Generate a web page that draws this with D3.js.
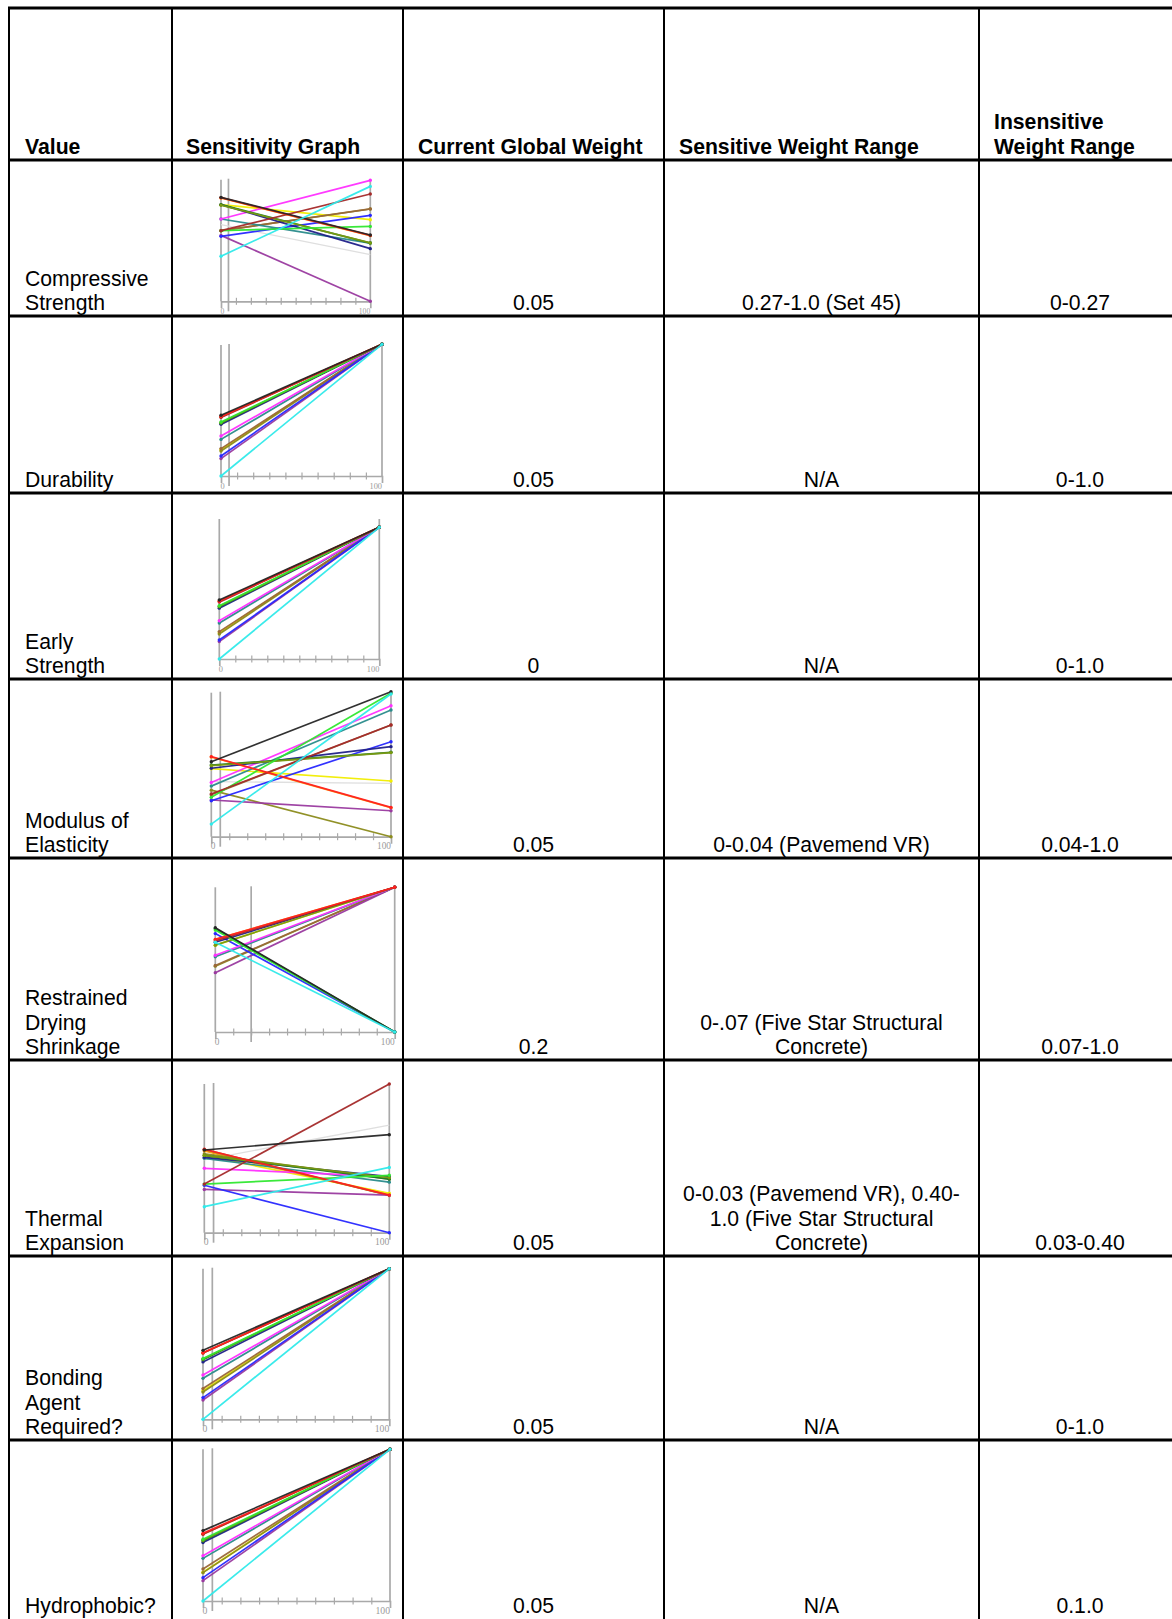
<!DOCTYPE html>
<html><head><meta charset="utf-8">
<script src="https://cdn.jsdelivr.net/npm/d3@7"></script>
<style>body{margin:0;background:#fff}svg{display:block}</style>
</head><body><svg id="c" width="1172" height="1619"></svg>
<script>
// ---------------- DATA ----------------
const columnHeaders = [["Value"], ["Sensitivity Graph"], ["Current Global Weight"], ["Sensitive Weight Range"], ["Insensitive", "Weight Range"]];
const rowLabels = [["Compressive", "Strength"], ["Durability"], ["Early", "Strength"], ["Modulus of", "Elasticity"],
  ["Restrained", "Drying", "Shrinkage"], ["Thermal", "Expansion"], ["Bonding", "Agent", "Required?"], ["Hydrophobic?"]];
const currentWeights = ["0.05", "0.05", "0", "0.05", "0.2", "0.05", "0.05", "0.05"];
const weightPercent = [5, 5, 0, 5, 20, 5, 5, 5];
const sensitiveRanges = [["0.27-1.0 (Set 45)"], ["N/A"], ["N/A"], ["0-0.04 (Pavemend VR)"],
  ["0-.07 (Five Star Structural", "Concrete)"], ["0-0.03 (Pavemend VR), 0.40-", "1.0 (Five Star Structural", "Concrete)"], ["N/A"], ["N/A"]];
const insensitiveRanges = ["0-0.27", "0-1.0", "0-1.0", "0.04-1.0", "0.07-1.0", "0.03-0.40", "0-1.0", "0.1.0"];
const axisTickLabels = ["0", "100"];
const axisTicks = [10, 20, 30, 40, 50, 60, 70, 80, 90];

// alternatives (drawing order)
const alternatives = ["lightgrey", "yellow", "orange", "olive", "brown", "purple", "blue", "teal", "magenta", "navy", "darkgreen", "olivegreen", "lime", "maroon", "red", "black", "cyan"];

// score of each alternative at weight 0 % and 100 % (same order as alternatives)
const g1At0   = [0.63, 0.795, 0.85, 0.581, 0.58, 0.542, 0.534, 0.677, 0.677, 0.795, 0.795, 0.79, 0.581, 0.581, 0.852, 0.855, 0.370];
const g1At100 = [0.384, 0.671, 0.54, 0.759, 0.76, 0.0, 0.707, 0.479, 0.995, 0.433, 0.479, 0.48, 0.616, 0.882, 0.542, 0.545, 0.945];
const g2At0   = [0.28, 0.2, 0.45, 0.19, 0.208, 0.132, 0.152, 0.278, 0.304, 0.392, 0.40, 0.405, 0.41, 0.445, 0.451, 0.461, 0.0];
const g2At100 = [1, 1, 1, 1, 1, 1, 1, 1, 1, 1, 1, 1, 1, 1, 1, 1, 1];
const g3At0   = [0.27, 0.2, 0.44, 0.19, 0.208, 0.132, 0.144, 0.273, 0.291, 0.386, 0.395, 0.40, 0.405, 0.432, 0.438, 0.448, 0.0];
const g3At100 = [1, 1, 1, 1, 1, 1, 1, 1, 1, 1, 1, 1, 1, 1, 1, 1, 1];
const g4At0   = [0.38, 0.469, 0.55, 0.321, 0.29, 0.253, 0.248, 0.349, 0.374, 0.472, 0.494, 0.49, 0.272, 0.295, 0.552, 0.517, 0.087];
const g4At100 = [0.368, 0.384, 0.2, 0.0, 0.77, 0.179, 0.655, 0.874, 0.903, 0.621, 0.582, 0.58, 0.989, 0.770, 0.202, 1.0, 0.984];
const g5At0   = [0.52, 0.60, 0.64, 0.455, 0.46, 0.41, 0.68, 0.52, 0.53, 0.62, 0.715, 0.60, 0.705, 0.63, 0.64, 0.72, 0.62];
const g5At100 = [1, 1, 1, 1, 1, 1, 0, 1, 1, 1, 0, 1, 0, 1, 1, 0, 0];
const g6At0   = [0.49, 0.52, 0.55, 0.53, 0.56, 0.291, 0.319, 0.5, 0.433, 0.507, 0.52, 0.52, 0.327, 0.327, 0.561, 0.556, 0.175];
const g6At100 = [0.724, 0.265, 0.253, 0.36, 0.25, 0.253, 0.0, 0.34, 0.377, 0.377, 0.36, 0.37, 0.386, 1.0, 0.253, 0.659, 0.439];
const g7At0   = [0.27, 0.19, 0.44, 0.181, 0.204, 0.128, 0.144, 0.272, 0.294, 0.381, 0.395, 0.40, 0.403, 0.44, 0.442, 0.458, 0.0];
const g7At100 = [1, 1, 1, 1, 1, 1, 1, 1, 1, 1, 1, 1, 1, 1, 1, 1, 1];
const g8At0   = [0.28, 0.19, 0.44, 0.187, 0.211, 0.134, 0.154, 0.281, 0.299, 0.385, 0.395, 0.40, 0.407, 0.44, 0.446, 0.464, 0.0];
const g8At100 = [1, 1, 1, 1, 1, 1, 1, 1, 1, 1, 1, 1, 1, 1, 1, 1, 1];

// ---------------- STYLE / LAYOUT ----------------
const altColor = {
  lightgrey: "#dedede", yellow: "#f2ee00", orange: "#ff9a00", olive: "#8c8c1c", brown: "#9a6838",
  purple: "#9a3aa0", blue: "#2828ff", teal: "#2a8c8c", magenta: "#ff30ff", navy: "#20208a",
  darkgreen: "#1c7a2a", olivegreen: "#7a9a10", lime: "#30e830", maroon: "#a52a2a", red: "#ff2020",
  black: "#262626", cyan: "#30eaea"
};
const graphData = [[g1At0, g1At100], [g2At0, g2At100], [g3At0, g3At100], [g4At0, g4At100],
  [g5At0, g5At100], [g6At0, g6At100], [g7At0, g7At100], [g8At0, g8At100]];
const graphLayout = [
  {x0: 221, x1: 370.3, yb: 301.3, yv: 179.7, top: 179.7},
  {x0: 221, x1: 382, yb: 476, yv: 344.3, top: 345},
  {x0: 219.3, x1: 379.3, yb: 659, yv: 527.3, top: 519},
  {x0: 211.3, x1: 391, yb: 836.7, yv: 691.7, top: 692.7},
  {x0: 215.3, x1: 394.7, yb: 1032, yv: 887.3, top: 887.3},
  {x0: 204.3, x1: 389.3, yb: 1232.7, yv: 1084, top: 1084},
  {x0: 203, x1: 389.3, yb: 1419.3, yv: 1268.7, top: 1268.7},
  {x0: 203, x1: 390, yb: 1601, yv: 1449.3, top: 1449.3}
];
const colX = [9, 172, 403, 664, 979, 1181];
const rowY = [8, 160, 316, 493, 679, 858, 1060, 1256, 1440, 1619];
const FONT = "'Liberation Sans', Arial, Helvetica, sans-serif";
const FS = 21.2, LH = 24.5;

const svg = d3.select("#c");
svg.append("rect").attr("width", 1172).attr("height", 1619).attr("fill", "#fff");

// ---------------- GRAPHS ----------------
graphLayout.forEach((L, i) => {
  const g = svg.append("g");
  const x = d3.scaleLinear().domain([0, 100]).range([L.x0, L.x1]);
  const y = d3.scaleLinear().domain([0, 1]).range([L.yb, L.yv]);
  const grey = "#a9a9a9";
  const w = L.x1 - L.x0;
  [0, 100].forEach(v => g.append("line").attr("x1", x(v)).attr("x2", x(v)).attr("y1", L.top).attr("y2", L.yb)
    .attr("stroke", grey).attr("stroke-width", 1.7));
  if (weightPercent[i] > 0) {
    g.append("line").attr("x1", x(weightPercent[i])).attr("x2", x(weightPercent[i]))
      .attr("y1", L.top - 1).attr("y2", L.yb + 10).attr("stroke", grey).attr("stroke-width", 1.7);
  }
  const ax = g.append("g").attr("transform", `translate(0,${L.yb})`)
    .call(d3.axisBottom(x).tickValues(axisTicks).tickSize(7).tickFormat(""));
  ax.select(".domain").attr("stroke", grey).attr("stroke-width", 1.7);
  ax.selectAll(".tick line").attr("y1", -3.5).attr("y2", 3.5).attr("stroke", grey).attr("stroke-width", 1.2);
  const lfs = w * 0.052;
  g.append("text").attr("x", x(0) - 0.5).attr("y", L.yb + 12.5).attr("font-family", "'Liberation Serif', 'DejaVu Serif', serif")
    .attr("font-size", lfs).attr("fill", "#9a9a9a").text(axisTickLabels[0]);
  g.append("text").attr("x", x(100)).attr("y", L.yb + 12.5).attr("text-anchor", "end")
    .attr("font-family", "'Liberation Serif', 'DejaVu Serif', serif")
    .attr("font-size", lfs).attr("fill", "#9a9a9a").text(axisTickLabels[1]);
  const [a0, a1] = graphData[i];
  alternatives.forEach((name, k) => {
    const c = altColor[name];
    const sw = name === "lightgrey" ? 1.3 : 1.7;
    g.append("line").attr("x1", x(0)).attr("y1", y(a0[k])).attr("x2", x(100)).attr("y2", y(a1[k]))
      .attr("stroke", c).attr("stroke-width", sw).attr("opacity", 0.95);
    if (name !== "lightgrey") {
      g.append("circle").attr("cx", x(0)).attr("cy", y(a0[k])).attr("r", 1.7).attr("fill", c);
      g.append("circle").attr("cx", x(100)).attr("cy", y(a1[k])).attr("r", 1.7).attr("fill", c);
    }
  });
});

// ---------------- TABLE ----------------
colX.forEach(cx => svg.append("line").attr("x1", cx).attr("x2", cx).attr("y1", rowY[0]).attr("y2", 1625)
  .attr("stroke", "#000").attr("stroke-width", 2));
rowY.slice(0, -1).forEach(ry => svg.append("line").attr("x1", colX[0] - 1).attr("x2", colX[5] + 1).attr("y1", ry).attr("y2", ry)
  .attr("stroke", "#000").attr("stroke-width", 3));

function textBlock(lines, xPos, baseline, anchor, bold) {
  const n = lines.length;
  lines.forEach((t, j) => {
    svg.append("text").attr("x", xPos).attr("y", baseline - (n - 1 - j) * LH)
      .attr("font-family", FONT).attr("font-size", FS).attr("font-weight", bold ? "bold" : "normal")
      .attr("text-anchor", anchor).attr("fill", "#000").text(t);
  });
}

const headerX = [25, 186, 418, 679, 994];
columnHeaders.forEach((h, c) => textBlock(h, headerX[c], rowY[1] - 6.5, "start", true));

const mid = c => (colX[c] + colX[c + 1]) / 2;
rowLabels.forEach((lab, r) => {
  const base = rowY[r + 2] - 6;
  textBlock(lab, 25, base, "start", false);
  textBlock([currentWeights[r]], mid(2), base, "middle", false);
  textBlock(sensitiveRanges[r], mid(3), base, "middle", false);
  textBlock([insensitiveRanges[r]], mid(4), base, "middle", false);
});
</script></body></html>
